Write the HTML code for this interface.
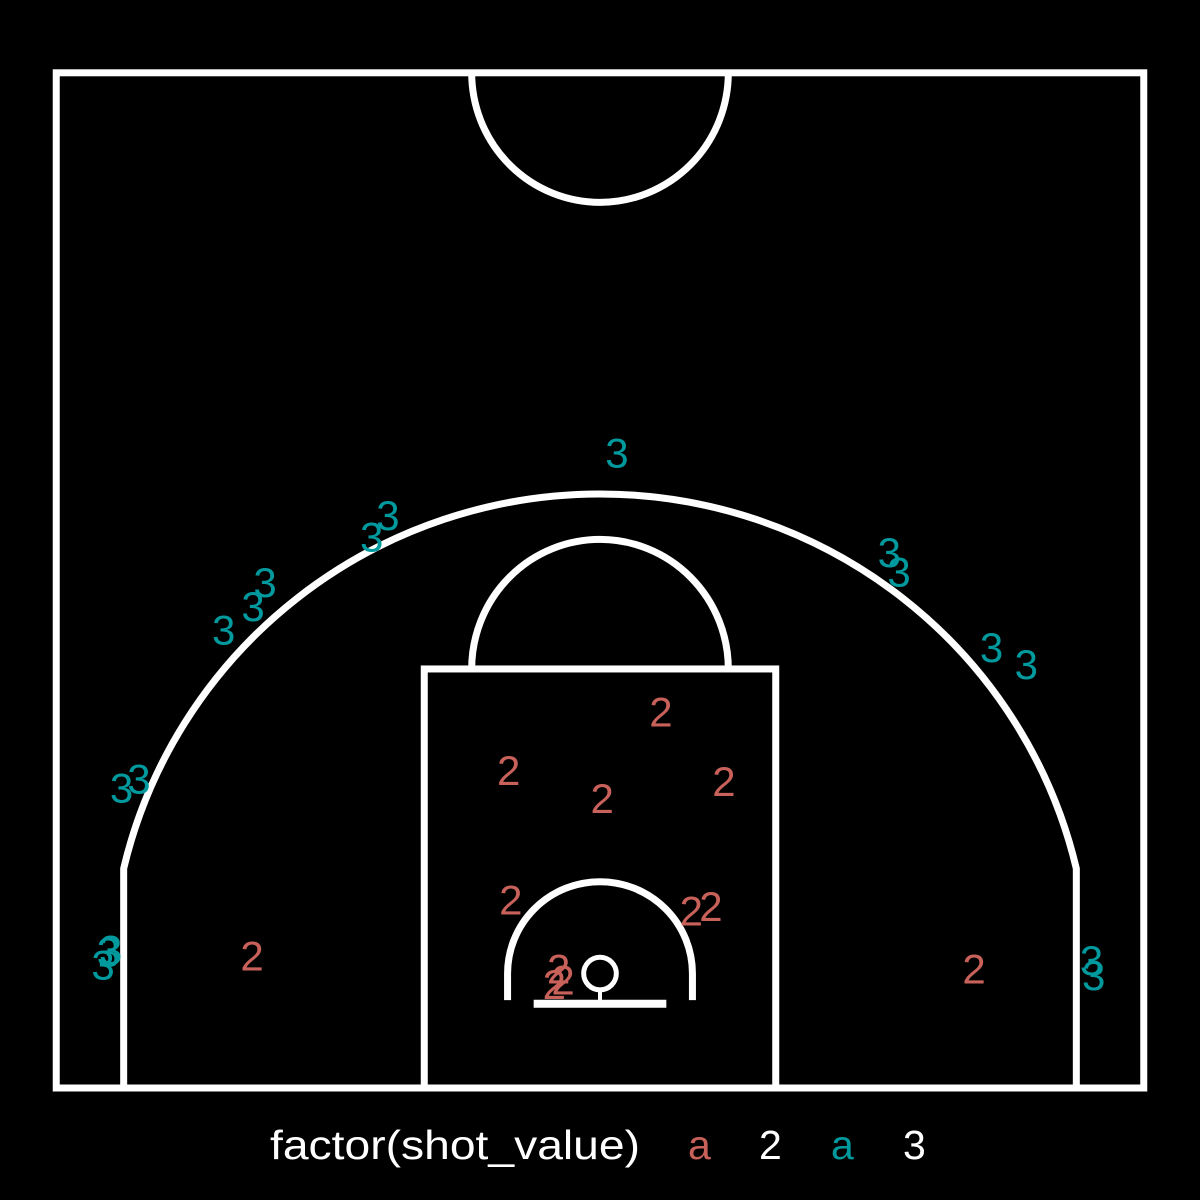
<!DOCTYPE html>
<html><head><meta charset="utf-8"><style>
html,body{margin:0;padding:0;background:#000;width:1200px;height:1200px;overflow:hidden}
svg{display:block}
</style></head><body>
<svg id="chart" width="1200" height="1200" viewBox="0 0 1200 1200" xmlns="http://www.w3.org/2000/svg">
<rect width="1200" height="1200" fill="#000"/>
<g id="court" fill="none" stroke="#fff" stroke-width="7"></g>
<g id="points" font-family="'Liberation Sans', sans-serif" font-size="42" text-anchor="middle" dominant-baseline="central"></g>
<g font-family="'Liberation Sans', sans-serif" font-size="41" fill="#fff">
<text x="270" y="1159" textLength="370" lengthAdjust="spacingAndGlyphs">factor(shot_value)</text>
<text x="688" y="1159" fill="#c8615a">a</text>
<text x="759" y="1159">2</text>
<text x="831" y="1159" fill="#009a9e">a</text>
<text x="903" y="1159">3</text>
</g>
</svg>
<script>
const shotX = [0.78,-9.75,-10.5,-15.4,-15.95,-17.3,-21.2,-22.0,-22.6,-22.85,-22.5,13.3,13.75,18.0,19.6,22.6,22.7,
  2.8,-4.2,0.1,5.7,-4.1,4.2,5.1,-16.0,17.2,-1.9,-1.7,-2.1];
const shotY = [29.4,26.5,25.5,23.4,22.3,21.2,14.3,13.9,6.3,5.7,6.4,24.8,23.9,20.4,19.6,5.9,5.2,
  17.4,14.7,13.4,14.2,8.7,8.2,8.4,6.1,5.5,5.5,5.0,4.8];
const shotValue = [3,3,3,3,3,3,3,3,3,3,3,3,3,3,3,3,3,
  2,2,2,2,2,2,2,2,2,2,2,2];
const colors = {2:'#c8615a',3:'#009a9e'};

const sx = x => 600 + x*21.75;
const sy = y => 1088 - y*21.6;
const ns = 'http://www.w3.org/2000/svg';
const court = document.getElementById('court');
function add(tag, attrs, name){
  const e = document.createElementNS(ns, tag);
  for (const k in attrs) e.setAttribute(k, attrs[k]);
  
  
  court.appendChild(e); return e;
}
const hoopY = 5.3;
add('rect',{x:sx(-25),y:sy(47),width:sx(25)-sx(-25),height:sy(0)-sy(47)},'court-boundary');
add('path',{d:`M${sx(-5.9)},${sy(47)} A${5.9*21.75},${6*21.6} 0 0 0 ${sx(5.9)},${sy(47)}`},'center-circle');
const R=22.5, cx=21.9, cy=hoopY+Math.sqrt(R*R-cx*cx)-0.3;
add('path',{d:`M${sx(-cx)},${sy(0)} L${sx(-cx)},${sy(cy)} A${R*21.75},${R*21.6} 0 0 1 ${sx(cx)},${sy(cy)} L${sx(cx)},${sy(0)}`},'three-point-line');
add('rect',{x:sx(-8.08),y:sy(19.4),width:sx(8.08)-sx(-8.08),height:sy(0)-sy(19.4)},'paint');
add('path',{d:`M${sx(-5.9)},${sy(19.4)} A${5.9*21.75},${6*21.6} 0 0 1 ${sx(5.9)},${sy(19.4)}`},'free-throw-circle');
add('path',{d:`M${sx(-4.25)},${sy(4.07)} L${sx(-4.25)},${sy(hoopY)} A${4.25*21.75},${4.25*21.6} 0 0 1 ${sx(4.25)},${sy(hoopY)} L${sx(4.25)},${sy(4.07)}`},'restricted-area');
add('line',{x1:sx(-3.05),y1:sy(3.9),x2:sx(3.05),y2:sy(3.9),'stroke-width':8},'backboard');
add('line',{x1:sx(0),y1:sy(4.5),x2:sx(0),y2:sy(3.9),'stroke-width':4},'hoop-stem');
add('circle',{cx:sx(0),cy:sy(hoopY),r:0.75*21.75,'stroke-width':5},'hoop');

const pts = document.getElementById('points');
for (let i=0;i<shotX.length;i++){
  const t = document.createElementNS(ns,'text');
  t.setAttribute('x', sx(shotX[i]));
  t.setAttribute('y', sy(shotY[i]));
  t.setAttribute('fill', colors[shotValue[i]]);
  t.textContent = shotValue[i];
  
  
  pts.appendChild(t);
}
</script>
</body></html>
